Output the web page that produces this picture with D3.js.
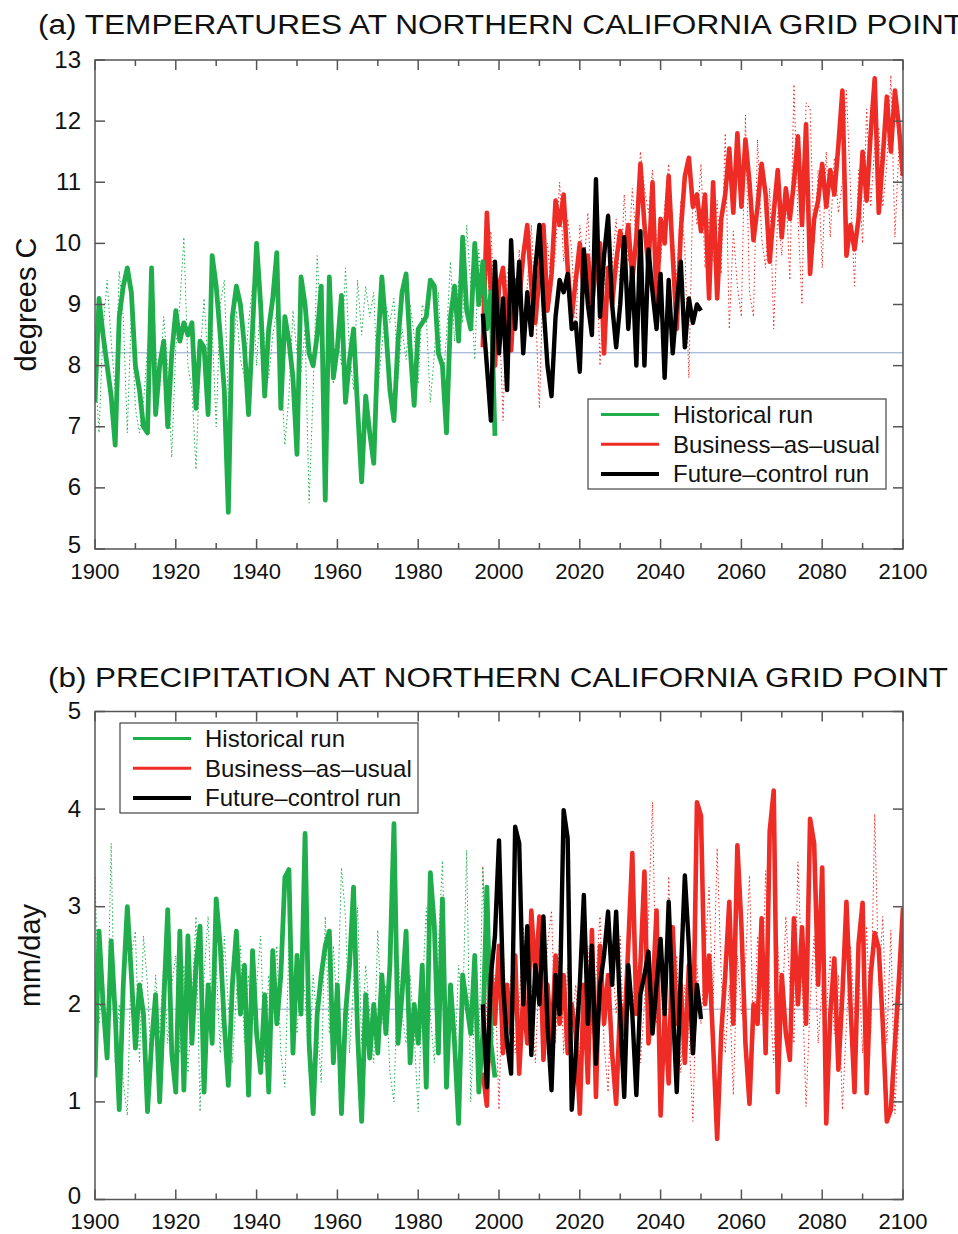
<!DOCTYPE html>
<html><head><meta charset="utf-8">
<script src="https://cdn.jsdelivr.net/npm/d3@7"></script>
<style>
html,body{margin:0;padding:0;background:#fff;}
svg text{font-family:"Liberation Sans",Arial,Helvetica,sans-serif;fill:#111;}
</style></head>
<body>
<svg id="chart" width="958" height="1234"></svg>
<script>
// ---------------- DATA ----------------
const histStart = 1900;   // historical run, 1900-1999
const futStart = 1996;    // business-as-usual 1996-2100, future control 1996-2050

const tempHist = [7.4,9.1,8.5,8.0,7.5,6.7,8.8,9.3,9.6,9.2,8.0,7.6,7.0,6.9,9.6,7.2,8.0,8.4,7.0,8.2,
8.9,8.4,8.7,8.5,8.7,7.3,8.4,8.3,7.2,9.8,9.3,8.5,7.6,5.6,8.8,9.3,9.0,8.3,7.2,8.6,
10.0,9.0,7.5,8.6,9.1,9.85,7.3,8.8,8.4,7.8,6.55,9.45,9.0,8.2,8.0,8.5,9.3,5.8,9.45,7.8,
8.3,9.15,7.4,8.1,8.6,7.3,6.1,7.5,6.9,6.4,8.3,9.45,8.6,7.6,7.1,8.4,9.2,9.5,8.3,7.35,
8.6,8.7,8.8,9.4,9.3,8.2,8.0,6.9,8.8,9.3,8.4,10.1,8.9,8.6,10.0,9.0,9.7,8.6,9.2,6.85];
const tempHistAlt = [8.0,6.9,8.6,9.4,8.4,7.6,9.55,8.8,6.9,8.9,7.3,6.9,7.4,8.3,8.7,8.2,7.6,8.8,8.0,6.5,
8.3,9.0,10.1,8.0,7.6,6.3,8.1,9.1,8.0,8.6,7.0,9.0,9.4,7.4,8.0,8.9,8.1,7.8,8.7,9.3,
8.0,9.1,8.4,7.8,8.5,8.9,8.0,6.7,7.5,8.9,8.2,7.9,8.6,5.75,7.6,9.8,8.4,7.9,8.3,7.7,
8.6,8.0,9.6,8.2,7.6,9.4,8.5,9.3,8.8,9.2,7.6,8.3,9.0,8.7,9.1,7.8,8.6,8.1,9.0,8.5,
7.7,9.0,8.8,7.4,8.2,9.2,7.6,8.5,9.7,8.4,9.4,8.7,10.3,9.3,8.1,9.9,8.8,9.9,8.5,9.0];
const tempBau = [8.3,10.5,9.2,8.0,9.3,9.6,8.7,8.25,9.4,9.1,9.8,10.3,9.3,8.7,9.5,10.3,8.9,9.5,10.7,10.3,
10.8,9.6,8.8,9.4,10.0,9.2,9.8,9.0,9.6,10.0,8.2,9.6,9.0,9.7,10.2,9.8,10.3,9.4,10.1,11.3,
10.3,9.6,11.0,9.0,10.4,10.0,11.1,9.8,8.6,10.2,11.1,11.4,10.6,10.8,10.2,10.8,9.1,11.0,9.1,10.4,
10.8,11.55,10.5,11.8,10.6,11.7,11.0,10.05,10.6,11.3,10.8,9.7,10.5,11.2,10.1,10.9,10.4,11.0,11.75,10.3,
11.95,9.5,10.4,10.7,11.3,10.6,11.2,10.8,11.6,12.5,9.8,10.3,9.9,10.4,11.5,10.7,11.8,12.7,10.5,11.4,
12.4,11.5,12.5,11.9,11.1];
const tempBauAlt = [8.6,9.8,10.2,8.8,9.0,7.1,9.5,9.8,8.6,9.9,8.4,9.3,10.3,9.0,7.3,9.6,10.0,9.2,9.9,11.0,
9.7,10.4,9.9,8.5,10.3,9.6,10.5,9.1,10.2,8.0,9.3,10.5,9.6,10.4,9.2,10.8,9.7,10.9,10.0,11.5,
10.9,10.5,11.2,10.0,9.7,10.6,11.3,10.2,9.4,10.7,9.9,7.8,10.9,10.3,11.3,9.6,10.4,9.7,10.7,9.5,
11.8,8.6,10.2,9.3,8.8,12.1,9.2,8.8,11.7,10.1,9.6,10.9,8.6,10.5,9.8,10.9,9.4,12.6,10.4,9.0,
12.3,12.2,10.0,11.2,9.6,11.5,10.1,11.4,10.5,11.0,12.5,10.9,9.3,11.2,10.0,12.2,10.6,11.6,11.9,10.6,
11.3,12.75,10.1,11.6,10.4];
const tempCtl = [8.85,8.0,7.1,9.7,8.2,9.1,7.6,10.05,8.6,9.7,8.2,9.2,8.5,9.6,10.3,9.0,8.0,7.5,8.8,9.4,
9.2,9.5,8.6,8.7,7.9,9.9,9.0,8.5,11.05,8.8,9.8,10.45,9.0,8.3,9.0,10.1,8.6,9.6,8.0,10.2,
8.0,9.9,9.2,8.6,9.5,7.8,9.4,8.2,9.0,9.7,8.3,9.1,8.7,9.0,8.9];

const precHist = [1.25,2.75,2.0,1.45,2.65,1.9,0.92,2.2,3.0,2.3,1.55,2.2,1.9,0.9,1.6,2.1,1.0,2.0,2.97,1.5,
1.1,2.75,1.12,2.7,1.6,2.4,2.8,1.1,2.2,1.6,3.08,2.6,1.8,1.17,2.2,2.75,1.9,2.4,1.07,2.55,
1.7,1.3,2.1,1.1,2.55,1.8,2.3,3.3,3.38,1.5,2.5,1.9,3.75,1.6,0.88,1.9,2.3,2.6,2.75,1.4,
2.2,0.88,1.9,2.4,3.2,1.7,0.8,2.1,1.45,2.0,1.5,2.3,1.7,2.4,3.85,1.6,2.1,2.75,1.4,2.0,
1.6,2.4,1.15,3.35,2.8,1.5,3.08,1.15,2.2,1.6,0.78,2.3,2.0,1.7,2.5,1.1,1.7,3.2,1.6,1.25];
const precHistAlt = [3.3,1.8,2.3,1.6,3.65,1.4,2.0,1.2,0.86,2.5,2.75,1.4,2.7,2.2,1.3,2.3,1.7,2.4,1.6,2.2,
2.5,1.5,2.4,1.3,2.0,2.9,0.9,2.3,2.9,1.7,2.4,1.5,2.7,2.0,1.4,2.1,2.6,1.6,2.3,1.8,
2.2,2.7,1.4,2.3,1.9,2.6,1.5,1.15,2.6,2.2,1.7,2.4,2.1,1.3,2.3,1.8,1.2,2.9,1.7,2.6,
1.9,3.4,2.9,1.5,2.2,2.99,1.6,2.4,1.9,1.4,2.76,1.8,2.2,1.3,1.0,2.5,1.9,1.6,2.3,1.7,
0.9,2.1,2.99,1.9,1.4,2.6,3.47,1.8,2.1,1.3,2.4,1.9,3.58,1.0,2.0,1.5,3.41,2.2,1.4,1.9];
const precBau = [1.3,0.96,2.4,1.8,2.6,1.5,2.2,1.7,2.5,1.29,2.1,1.6,2.96,2.3,2.9,1.43,2.2,1.6,2.5,1.8,
2.3,1.5,2.0,1.7,0.88,2.2,1.2,2.76,1.05,2.6,1.8,2.3,1.5,0.98,2.0,1.7,2.6,3.55,1.9,2.4,
3.36,1.6,2.1,2.96,0.86,1.9,1.19,2.79,1.8,2.2,1.4,2.4,1.5,4.07,3.93,2.0,2.5,1.6,0.62,1.7,
2.3,3.05,1.8,3.63,2.81,1.6,0.98,2.0,1.8,2.88,1.5,3.77,4.19,1.1,2.3,1.7,1.43,2.88,2.0,2.79,
1.8,3.9,3.65,2.2,3.4,0.78,1.9,2.47,1.33,2.1,3.05,2.0,1.1,2.62,3.04,1.09,2.3,2.73,2.57,1.8,
0.8,0.92,1.6,2.26,2.99];
const precBauAlt = [3.41,1.8,1.4,2.3,0.92,2.6,1.8,2.3,1.5,2.0,2.79,1.7,2.2,1.4,2.4,1.9,2.6,2.96,1.6,2.7,
1.5,2.4,1.8,2.2,1.4,2.0,2.6,1.7,2.3,2.9,1.6,1.1,2.5,1.9,2.7,1.5,2.2,1.8,2.6,1.4,
2.0,2.9,4.07,1.8,2.4,1.5,3.31,1.9,2.5,1.3,2.2,1.7,0.8,2.4,1.8,2.5,3.2,2.0,3.6,2.3,
1.5,2.2,1.07,2.5,1.9,2.4,3.32,1.6,2.7,1.9,3.37,2.1,1.4,2.6,1.8,2.9,2.2,1.6,3.46,2.3,
0.95,2.0,2.7,1.6,2.2,1.9,2.5,1.7,2.3,0.92,1.8,2.6,1.9,2.4,1.5,2.8,1.7,3.95,2.2,2.9,
1.6,2.76,0.88,1.9,2.5];
const precCtl = [2.0,1.15,2.3,2.7,3.68,2.2,1.6,1.29,3.82,3.65,2.0,2.8,1.48,2.4,2.0,2.9,1.8,1.12,2.3,1.9,
3.99,3.7,0.92,1.5,2.2,3.12,1.8,2.6,1.39,2.2,2.5,2.95,2.2,2.95,1.9,1.05,2.4,1.9,1.07,2.1,
2.3,2.54,1.7,2.2,2.67,1.9,3.05,2.0,1.1,2.3,3.32,2.6,1.5,2.2,1.85];

const xTickValues = [1900,1910,1920,1930,1940,1950,1960,1970,1980,1990,2000,2010,2020,2030,2040,2050,2060,2070,2080,2090,2100];
const xTickLabels = [1900,1920,1940,1960,1980,2000,2020,2040,2060,2080,2100];
const tempTicks = [5,6,7,8,9,10,11,12,13];
const precTicks = [0,1,2,3,4,5];
const tempRef = 8.21;
const precRef = 1.95;
const legendNames = ["Historical run","Business\u2013as\u2013usual","Future\u2013control run"];

// ---------------- DRAW ----------------
const svg = d3.select("#chart");
const C = {green:"#1fae4b", red:"#ee2b24", black:"#000000", ref:"#8fa2cc", axis:"#555"};

function label(g, x, y, s, size, anchor, rot) {
  const t = g.append("text").attr("font-size", size).attr("text-anchor", anchor || "start").text(s);
  t.attr("transform", rot ? `translate(${x},${y}) rotate(${rot})` : `translate(${x},${y})`);
  return t;
}

function series(start, arr) { return arr.map((v, i) => ({x: start + i, v})); }

function panel(opt) {
  const g = svg.append("g");
  const x = d3.scaleLinear().domain([1900, 2100]).range([95, 903]);
  const y = d3.scaleLinear().domain(opt.yDomain).range([opt.bottom, opt.top]);
  const clipId = "clip" + opt.id;
  svg.append("clipPath").attr("id", clipId).append("rect")
    .attr("x", 95).attr("y", opt.top).attr("width", 808).attr("height", opt.bottom - opt.top);

  // reference line
  g.append("line").attr("x1", x(1900)).attr("x2", x(2100)).attr("y1", y(opt.ref)).attr("y2", y(opt.ref))
    .attr("stroke", C.ref).attr("stroke-width", 1);

  const line = d3.line().x(d => x(d.x)).y(d => y(d.v));
  const lg = g.append("g").attr("clip-path", `url(#${clipId})`);
  const draw = (data, color, w, dash) => lg.append("path").datum(data).attr("d", line)
    .attr("fill", "none").attr("stroke", color).attr("stroke-width", w)
    .attr("stroke-linejoin", "round").attr("stroke-dasharray", dash || null);

  draw(series(histStart, opt.histAlt), C.green, 1, "1.5,2.5");
  draw(series(futStart, opt.bauAlt), C.red, 1, "1.5,2.5");
  draw(series(futStart, opt.bau), C.red, 4.6);
  draw(series(histStart, opt.hist), C.green, 4.8);
  draw(series(futStart, opt.ctl), C.black, 4.4);

  // frame
  g.append("rect").attr("x", 95).attr("y", opt.top).attr("width", 808).attr("height", opt.bottom - opt.top)
    .attr("fill", "none").attr("stroke", C.axis).attr("stroke-width", 1.5);

  // x ticks (inward, top and bottom)
  xTickValues.forEach(v => {
    const len = (v % 20 === 0) ? 10 : 6;
    g.append("line").attr("x1", x(v)).attr("x2", x(v)).attr("y1", opt.bottom).attr("y2", opt.bottom - len)
      .attr("stroke", C.axis).attr("stroke-width", 1.5);
    g.append("line").attr("x1", x(v)).attr("x2", x(v)).attr("y1", opt.top).attr("y2", opt.top + len)
      .attr("stroke", C.axis).attr("stroke-width", 1.5);
  });
  xTickLabels.forEach(v => label(g, x(v), opt.bottom + 29.5, String(v), 22, "middle"));

  // y ticks (inward, left and right)
  const lowest = opt.yDomain[0];
  opt.yTicks.forEach(v => {
    g.append("line").attr("x1", 95).attr("x2", 105).attr("y1", y(v)).attr("y2", y(v))
      .attr("stroke", C.axis).attr("stroke-width", 1.5);
    g.append("line").attr("x1", 893).attr("x2", 903).attr("y1", y(v)).attr("y2", y(v))
      .attr("stroke", C.axis).attr("stroke-width", 1.5);
    label(g, 81, y(v) + (v === lowest ? 4 : 7.5), String(v), 24, "end");
  });

  // titles
  label(g, opt.titleX, opt.titleY, opt.title, 27, "start").attr("textLength", opt.titleW).attr("lengthAdjust", "spacingAndGlyphs");
  label(g, opt.yLabelX, (opt.top + opt.bottom) / 2, opt.yLabel, 29, "middle", -90);

  // legend
  const L = opt.legend;
  g.append("rect").attr("x", L.x).attr("y", L.y).attr("width", L.w).attr("height", L.h)
    .attr("fill", "#fff").attr("stroke", "#444").attr("stroke-width", 1.2);
  const cols = [C.green, C.red, C.black];
  const widths = [3, 3, 4];
  legendNames.forEach((n, i) => {
    const yy = L.y + 15.5 + i * 29.7;
    g.append("line").attr("x1", L.x + 13).attr("x2", L.x + 71).attr("y1", yy).attr("y2", yy)
      .attr("stroke", cols[i]).attr("stroke-width", widths[i]);
    label(g, L.x + 85, yy + 8.5, n, 24, "start");
  });
}

panel({id: "a", top: 60, bottom: 549, yDomain: [5, 13], yTicks: tempTicks, ref: tempRef,
  hist: tempHist, histAlt: tempHistAlt, bau: tempBau, bauAlt: tempBauAlt, ctl: tempCtl,
  title: "(a) TEMPERATURES AT NORTHERN CALIFORNIA GRID POINT", titleX: 38, titleY: 34, titleW: 925,
  yLabel: "degrees C", yLabelX: 36,
  legend: {x: 588, y: 399, w: 298, h: 90}});

panel({id: "b", top: 711.5, bottom: 1199.5, yDomain: [0, 5], yTicks: precTicks, ref: precRef,
  hist: precHist, histAlt: precHistAlt, bau: precBau, bauAlt: precBauAlt, ctl: precCtl,
  title: "(b) PRECIPITATION AT NORTHERN CALIFORNIA GRID POINT", titleX: 48, titleY: 687, titleW: 900,
  yLabel: "mm/day", yLabelX: 40,
  legend: {x: 120, y: 723, w: 298, h: 90}});
</script>
</body></html>
